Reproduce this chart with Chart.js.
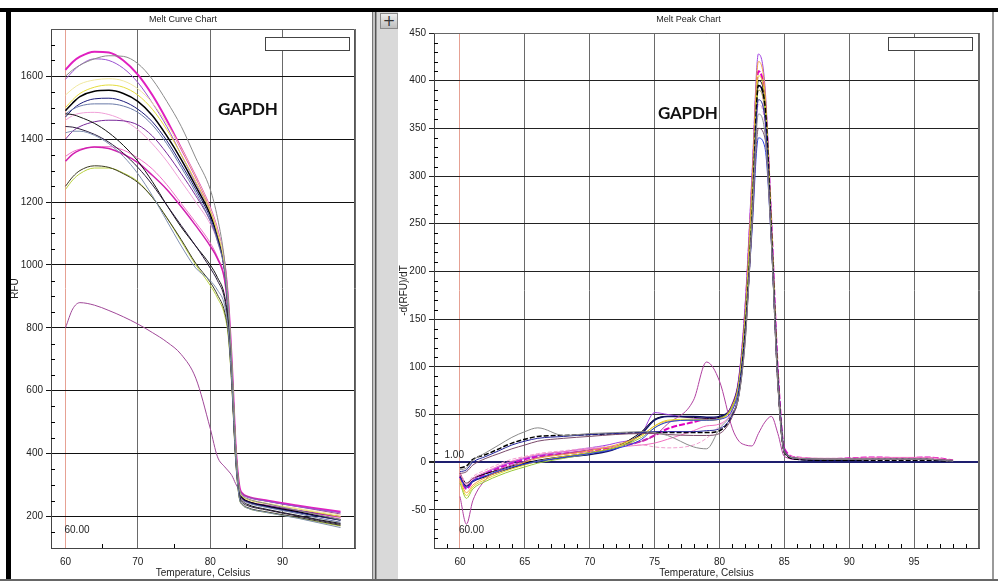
<!DOCTYPE html>
<html>
<head>
<meta charset="utf-8">
<title>Melt Curve / Melt Peak</title>
<script src="https://cdn.jsdelivr.net/npm/chart.js@4.4.0/dist/chart.umd.min.js"></script>
<style>
    html, body { margin: 0; padding: 0; background: #fff; }
    body { width: 998px; height: 581px; position: relative; overflow: hidden;
           font-family: 'Liberation Sans', Arial, sans-serif; }
    .abs { position: absolute; }
    #topBar { left: 0; top: 8px; width: 998px; height: 4px; background: #000; }
    #leftBar { left: 6px; top: 8px; width: 5px; height: 573px; background: #000; }
    #leftPanel { left: 11px; top: 12px; width: 361px; height: 567px; background: #fff; }
    #sep { left: 372px; top: 12px; width: 5px; height: 569px;
           background: linear-gradient(to right, #777 0 1px, #c4c4c4 1px 3px, #555 3px 4px, #9a9a9a 4px 5px); }
    #strip { left: 377px; top: 12px; width: 21px; height: 567px; background: #d9d9d9; }
    #plusBtn { left: 380px; top: 13px; width: 16px; height: 14px; border: 1px solid #8a8a8a;
               background: linear-gradient(#ededed, #bdbdbd); font: 15px/14px 'DejaVu Sans', sans-serif;
               text-align: center; color: #333; }
    #rightPanel { left: 398px; top: 12px; width: 594px; height: 567px; background: #fff; }
    #rightEdge { left: 992px; top: 12px; width: 2px; height: 569px; background: #9a9a9a; }
    #bottomBar { left: 0; top: 579px; width: 998px; height: 2px; background: #666; }
    .legendBox { width: 83px; height: 12px; border: 1px solid #444; background: #fff; }
    .gene { font: 700 17px Lato, 'Open Sans', sans-serif; color: #111; letter-spacing: -0.2px; }
</style>
</head>
<body>
<div id="topBar" class="abs"></div>
<div id="leftBar" class="abs"></div>
<div id="leftPanel" class="abs"></div>
<div id="sep" class="abs"></div>
<div id="strip" class="abs"></div>
<div id="plusBtn" class="abs">+</div>
<div id="rightPanel" class="abs"></div>
<div id="rightEdge" class="abs"></div>
<div id="bottomBar" class="abs"></div>

<canvas id="meltCurve" class="abs" width="361" height="567" style="left:11px;top:12px;"></canvas>
<canvas id="meltPeak" class="abs" width="594" height="567" style="left:398px;top:12px;"></canvas>

<div class="abs legendBox" style="left:265px;top:37px;"></div>
<div class="abs legendBox" style="left:888px;top:37px;"></div>
<div class="abs gene" style="left:218px;top:98px;">GAPDH</div>
<div class="abs gene" style="left:658px;top:102px;">GAPDH</div>

<script>
// --- Melt curve (RFU) ---
const meltTemps = [60, 61, 62, 64, 66, 68, 70, 72, 74, 76, 78, 80, 81, 82, 82.5, 83, 83.5, 84, 84.5, 85, 88, 92, 95, 98];

const rfu01 = [1620, 1645, 1662, 1678, 1675, 1650, 1605, 1540, 1460, 1370, 1280, 1180, 1110, 1000, 880, 680, 430, 300, 272, 265, 250, 235, 225, 215];
const rfu02 = [1600, 1620, 1635, 1655, 1665, 1663, 1640, 1590, 1520, 1440, 1340, 1240, 1150, 1010, 880, 680, 430, 295, 265, 258, 240, 220, 205, 190];
const rfu03 = [1590, 1615, 1635, 1655, 1650, 1625, 1580, 1515, 1440, 1350, 1260, 1170, 1100, 990, 860, 660, 420, 290, 268, 262, 248, 232, 222, 212];
const rfu04 = [1540, 1560, 1575, 1588, 1592, 1585, 1560, 1515, 1450, 1370, 1280, 1180, 1110, 1000, 870, 670, 425, 290, 265, 258, 242, 226, 215, 205];
const rfu05 = [1500, 1525, 1545, 1565, 1572, 1565, 1540, 1495, 1430, 1350, 1265, 1170, 1100, 995, 865, 665, 420, 288, 262, 255, 240, 225, 212, 200];
const rfu06 = [1490, 1515, 1535, 1552, 1555, 1545, 1520, 1475, 1410, 1335, 1250, 1160, 1090, 985, 855, 655, 415, 285, 258, 250, 232, 215, 202, 190];
const rfu07 = [1470, 1495, 1512, 1528, 1530, 1520, 1495, 1455, 1395, 1320, 1240, 1150, 1085, 980, 850, 650, 410, 280, 255, 248, 230, 213, 200, 188];
const rfu08 = [1480, 1495, 1505, 1512, 1512, 1505, 1485, 1445, 1385, 1310, 1230, 1140, 1075, 975, 845, 645, 405, 278, 252, 245, 228, 210, 195, 182];
const rfu09 = [1480, 1478, 1470, 1450, 1420, 1380, 1330, 1265, 1190, 1120, 1060, 1000, 960, 900, 810, 630, 400, 272, 248, 240, 222, 204, 190, 178];
const rfu10 = [1400, 1425, 1440, 1455, 1460, 1458, 1445, 1410, 1355, 1290, 1220, 1140, 1080, 980, 850, 650, 410, 282, 258, 250, 235, 220, 210, 200];
const rfu11 = [1460, 1475, 1482, 1485, 1478, 1460, 1430, 1385, 1330, 1265, 1200, 1130, 1075, 975, 850, 650, 410, 280, 256, 248, 232, 216, 205, 195];
const rfu12 = [1440, 1438, 1432, 1415, 1390, 1355, 1310, 1255, 1190, 1125, 1060, 990, 950, 890, 800, 625, 395, 268, 243, 236, 220, 202, 188, 175];
const rfu13 = [1420, 1425, 1425, 1412, 1385, 1345, 1290, 1220, 1140, 1060, 990, 950, 920, 870, 790, 620, 390, 262, 236, 228, 212, 195, 180, 165];
const rfu14 = [1330, 1352, 1365, 1375, 1370, 1352, 1325, 1285, 1240, 1185, 1125, 1060, 1020, 950, 840, 645, 405, 278, 255, 248, 232, 218, 208, 198];
const rfu15 = [1345, 1360, 1368, 1375, 1376, 1365, 1340, 1305, 1255, 1195, 1135, 1070, 1025, 955, 845, 648, 408, 280, 257, 250, 235, 220, 210, 200];
const rfu16 = [1250, 1280, 1300, 1315, 1310, 1290, 1262, 1215, 1150, 1080, 1005, 945, 905, 850, 780, 610, 385, 262, 238, 230, 214, 198, 185, 172];
const rfu17 = [1240, 1270, 1290, 1308, 1308, 1292, 1265, 1215, 1150, 1075, 1000, 935, 895, 840, 770, 605, 380, 260, 236, 228, 212, 196, 182, 170];
const rfu18 = [800, 860, 880, 872, 855, 835, 812, 785, 755, 715, 640, 480, 390, 358, 345, 330, 305, 285, 272, 265, 248, 232, 220, 208];

const rfuSeries = [rfu02, rfu13, rfu12, rfu09, rfu16, rfu17, rfu08, rfu04, rfu05, rfu07, rfu06, rfu10, rfu11, rfu14, rfu15, rfu03, rfu18, rfu01];
const rfuColors = ['#8a8a8a', '#7f8fb0', '#2a1a3a', '#111111', '#3a3a20', '#b8d040', '#6a7aa8', '#f0e8a0', '#e4dc3a',
                   '#1c1c7a', '#000000', '#7a2a9a', '#f0a0d8', '#d020b0', '#f070c8', '#9a50d0', '#a04898', '#e020c0'];
const rfuWidths = [1, 1, 1, 1, 1, 1, 1, 1, 1, 1, 1.5, 1, 1, 1.5, 1, 1, 1, 2];

const rfuRange = [100, 1750];
const rfuStep = 200;

// --- Melt peak (-dRFU/dT) ---
const peakTemps = [60, 60.5, 61, 62, 63, 64, 65, 66, 68, 70, 72, 74, 75, 76, 78, 79, 80, 81, 81.5, 82, 82.5, 83, 83.5, 84, 84.5, 85, 86, 88, 90, 92, 94, 96, 98];

const drv01 = [-8, -6, 2, 10, 18, 26, 32, 36, 28, 30, 31, 32, 31, 28, 16, 14, 35, 52, 70, 130, 250, 365, 345, 230, 82, 10, 4, 3, 3, 3, 3, 3, 1];
const drv02 = [-6, -4, 3, 8, 14, 20, 24, 27, 28, 29, 30, 31, 31, 31, 31, 31, 33, 50, 72, 140, 255, 395, 375, 240, 85, 10, 3, 2, 2, 2, 2, 2, 1];
const drv03 = [-10, -8, 0, 6, 12, 18, 22, 25, 27, 29, 30, 31, 32, 32, 32, 33, 35, 50, 72, 135, 250, 380, 360, 235, 85, 12, 4, 3, 3, 3, 3, 3, 1];
const drv04 = [-12, -10, -3, 4, 9, 14, 18, 22, 25, 27, 29, 30, 30, 29, 28, 28, 30, 48, 70, 130, 245, 350, 340, 230, 80, 12, 4, 3, 3, 3, 3, 3, 2];
const drv05 = [-12, -22, -17, -12, -8, -4, -1, 2, 6, 10, 16, 32, 45, 48, 47, 46, 47, 58, 80, 150, 270, 400, 380, 245, 85, 10, 3, 2, 2, 3, 3, 3, 1];
const drv06 = [-15, -25, -20, -15, -10, -6, -2, 1, 5, 8, 14, 30, 44, 48, 48, 47, 48, 60, 85, 155, 275, 395, 370, 240, 90, 12, 3, 2, 2, 3, 3, 3, 1];
const drv07 = [-15, -28, -20, -12, -6, -1, 3, 6, 9, 12, 16, 22, 28, 35, 42, 45, 46, 60, 85, 160, 285, 410, 380, 250, 95, 14, 5, 3, 4, 5, 4, 5, 2];
const drv08 = [-20, -35, -26, -18, -12, -7, -3, 1, 6, 10, 16, 28, 38, 44, 45, 44, 45, 58, 82, 150, 270, 405, 380, 245, 88, 12, 4, 3, 3, 3, 3, 3, 1];
const drv09 = [-22, -38, -28, -20, -14, -9, -5, -1, 4, 9, 15, 26, 36, 42, 44, 44, 46, 58, 80, 148, 265, 390, 370, 240, 86, 11, 4, 3, 3, 3, 3, 3, 1];
const drv10 = [-18, -32, -24, -16, -10, -5, 0, 4, 8, 12, 18, 28, 38, 43, 44, 44, 45, 60, 85, 160, 290, 420, 390, 250, 90, 12, 4, 3, 3, 3, 3, 3, 1];
const drv11 = [-14, -26, -19, -11, -5, 0, 4, 7, 11, 15, 20, 30, 52, 50, 46, 45, 46, 62, 90, 170, 300, 428, 395, 255, 92, 13, 4, 3, 3, 3, 3, 3, 1];
const drv12 = [-12, -24, -17, -10, -4, 1, 5, 8, 11, 14, 16, 18, 20, 24, 33, 38, 40, 55, 80, 150, 270, 390, 365, 240, 88, 12, 5, 4, 4, 5, 5, 5, 2];
const drv13 = [-10, -22, -15, -8, -2, 3, 6, 9, 12, 15, 17, 18, 16, 15, 18, 25, 38, 55, 80, 145, 260, 375, 355, 235, 85, 12, 5, 4, 4, 4, 4, 4, 2];
const drv14 = [-16, -27, -20, -14, -9, -5, -2, 1, 5, 9, 14, 24, 36, 42, 44, 44, 45, 55, 78, 140, 240, 340, 330, 230, 85, 12, 4, 3, 3, 3, 3, 3, 1];
const drv15 = [-36, -65, -40, -18, -8, -3, 1, 5, 9, 13, 17, 22, 28, 40, 65, 105, 85, 35, 22, 18, 17, 30, 42, 48, 30, 6, 3, 3, 3, 3, 3, 3, 1];

const drvSeries = [drv01, drv04, drv03, drv02, drv14, drv09, drv08, drv10, drv13, drv12, drv15, drv06, drv05, drv11, drv07];
const drvColors = ['#8a8a8a', '#7a4a6a', '#24249a', '#000000', '#3040e0', '#98c838', '#e4d828', '#f0a040', '#f0a0d0',
                   '#f070c0', '#b040a0', '#12126a', '#000000', '#a040e0', '#e000c0'];
const drvWidths = [1, 1, 1, 1.5, 1, 1, 1, 1, 1, 1, 1, 1.5, 1, 1, 2];
const drvDashes = [[], [], [], [5, 2], [], [], [], [], [4, 2], [], [], [], [], [], [6, 2]];

const drvRange = [-90, 450];
const drvStep = 50;
const tempRange = [58, 100];

Chart.defaults.font.family = "'Liberation Sans', Arial, sans-serif";
Chart.defaults.font.size = 10;
Chart.defaults.color = '#222';
Chart.defaults.animation = false;

function buildSets(temps, series, colors, widths, dashes) {
    return series.map((vals, i) => ({
        data: vals.map((v, k) => ({ x: temps[k], y: v })),
        borderColor: colors[i],
        borderWidth: widths[i] || 1,
        borderDash: (dashes && dashes[i]) || [],
        pointRadius: 0,
        fill: false,
        cubicInterpolationMode: 'monotone'
    }));
}

// minor ticks inside the plot, top/right frame and cursor labels
const meltDecor = {
    id: 'meltDecor',
    beforeDatasetsDraw(chart, args, o) {
        const { ctx, chartArea: a, scales: { x, y } } = chart;
        ctx.save();
        ctx.lineWidth = 1;
        ctx.strokeStyle = o.frameColor;
        ctx.beginPath();
        const top = Math.round(a.top) + 0.5;
        const right = Math.round(a.right) - 0.5;
        ctx.moveTo(a.left, top); ctx.lineTo(right, top); ctx.lineTo(right, a.bottom);
        ctx.stroke();

        ctx.strokeStyle = '#000';
        ctx.beginPath();
        for (let v = Math.ceil(x.min / o.xMinor) * o.xMinor; v < x.max; v += o.xMinor) {
            if (v % o.xMajor === 0 || v === x.min) continue;
            const px = Math.round(x.getPixelForValue(v)) + 0.5;
            ctx.moveTo(px, a.bottom); ctx.lineTo(px, a.bottom - o.len);
        }
        for (let v = Math.ceil(y.min / o.yMinor) * o.yMinor; v < y.max; v += o.yMinor) {
            if (v % o.yMajor === 0 || v === y.min) continue;
            const py = Math.round(y.getPixelForValue(v)) + 0.5;
            ctx.moveTo(a.left, py); ctx.lineTo(a.left + o.len, py);
        }
        ctx.stroke();
        ctx.restore();
    },
    afterDatasetsDraw(chart, args, o) {
        const { ctx, chartArea: a, scales: { x, y } } = chart;
        ctx.save();
        ctx.font = "10px 'Liberation Sans', Arial, sans-serif";
        ctx.fillStyle = '#222';
        ctx.textBaseline = 'middle';
        ctx.textAlign = 'left';
        ctx.fillText('60.00', x.getPixelForValue(60) - 1, a.bottom - 18);
        if (o.baseLabel) {
            ctx.textAlign = 'right';
            ctx.fillText('1.00', x.getPixelForValue(60) + 4, y.getPixelForValue(0) - 7);
        }
        ctx.restore();
    }
};

function xAxis(step) {
    return {
        type: 'linear', min: tempRange[0], max: tempRange[1],
        afterFit(scale) { scale.height = 31; },
        border: { display: true, color: '#444' },
        grid: {
            color: c => c.tick && c.tick.value === 60 ? '#e6a193' : '#6a6a6a',
            drawTicks: false
        },
        ticks: {
            stepSize: step, includeBounds: false, padding: 8, maxRotation: 0, autoSkip: false,
            callback: v => v >= 100 ? '' : String(v)
        },
        title: { display: true, text: 'Temperature, Celsius', padding: { top: 0, bottom: 0 } }
    };
}

new Chart(document.getElementById('meltCurve'), {
    type: 'line',
    data: { datasets: buildSets(meltTemps, rfuSeries, rfuColors, rfuWidths) },
    plugins: [meltDecor],
    options: {
        responsive: false,
        layout: { padding: { left: 0, right: 17, top: 0, bottom: 0 } },
        plugins: {
            legend: { display: false },
            tooltip: { enabled: false },
            title: { display: true, text: 'Melt Curve Chart', font: { size: 9, weight: 'normal' },
                     padding: { top: 2, bottom: 4.2 }, color: '#222' },
            meltDecor: { xMinor: 5, xMajor: 10, yMinor: 50, yMajor: 200, len: 4, frameColor: '#555', baseLabel: false }
        },
        scales: {
            x: xAxis(10),
            y: {
                type: 'linear', min: rfuRange[0], max: rfuRange[1],
                afterFit(scale) { scale.width = 40; },
                border: { display: true, color: '#444' },
                grid: { color: '#111', tickColor: '#111', tickLength: 5 },
                ticks: { stepSize: rfuStep, includeBounds: false, padding: 3, callback: v => String(v) },
                title: { display: true, text: 'RFU', padding: { top: -2, bottom: 0 } }
            }
        }
    }
});

new Chart(document.getElementById('meltPeak'), {
    type: 'line',
    data: { datasets: buildSets(peakTemps, drvSeries, drvColors, drvWidths, drvDashes) },
    plugins: [meltDecor],
    options: {
        responsive: false,
        layout: { padding: { left: 0, right: 13, top: 0, bottom: 0 } },
        plugins: {
            legend: { display: false },
            tooltip: { enabled: false },
            title: { display: true, text: 'Melt Peak Chart', font: { size: 9, weight: 'normal' },
                     padding: { top: 2, bottom: 8.2 }, color: '#222' },
            meltDecor: { xMinor: 1, xMajor: 5, yMinor: 10, yMajor: 50, len: 4, frameColor: '#666', baseLabel: true }
        },
        scales: {
            x: xAxis(5),
            y: {
                type: 'linear', min: drvRange[0], max: drvRange[1],
                afterFit(scale) { scale.width = 36; },
                border: { display: true, color: '#444' },
                grid: {
                    color: c => c.tick && c.tick.value === 0 ? '#1e1e6e' : '#222',
                    lineWidth: c => c.tick && c.tick.value === 0 ? 2 : 1,
                    tickColor: '#222', tickLength: 5
                },
                ticks: { stepSize: drvStep, includeBounds: false, padding: 3, callback: v => String(v) },
                title: { display: true, text: '-d(RFU)/dT', padding: { top: 0, bottom: 0 } }
            }
        }
    }
});
</script>
</body>
</html>
